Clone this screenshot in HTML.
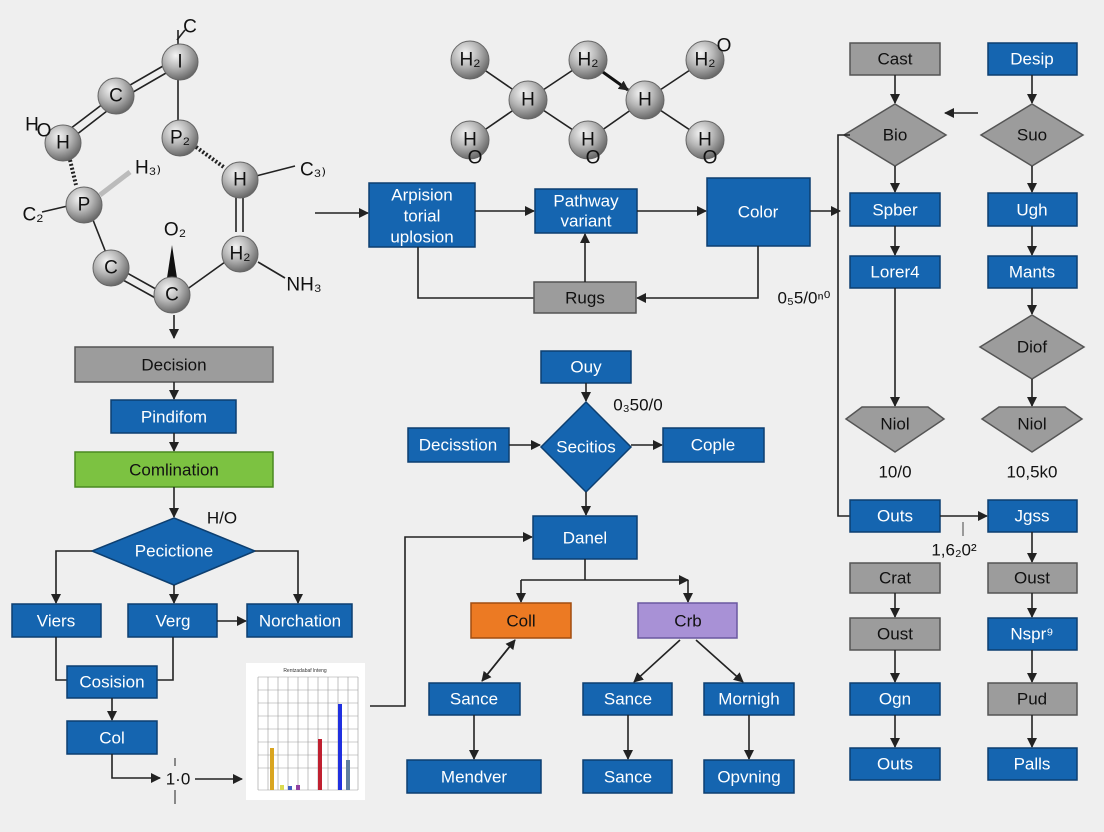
<!DOCTYPE html>
<html><head><meta charset="utf-8"><style>
html,body{margin:0;padding:0;background:#efefef}
svg{display:block}
text{font-family:"Liberation Sans",sans-serif}
.b{fill:#1565b0;stroke:#0d3f70;stroke-width:1.5}
.g{fill:#9c9c9c;stroke:#555;stroke-width:1.5}
.w{fill:#fff;font-size:17px;text-anchor:middle;dominant-baseline:central}
.k{fill:#111;font-size:17px;text-anchor:middle;dominant-baseline:central}
.l{stroke:#222;stroke-width:1.6;fill:none}
.a{stroke:#222;stroke-width:1.6;fill:none;marker-end:url(#ar)}
.at{fill:url(#sp);stroke:#666;stroke-width:1}
.al{fill:#111;font-size:19px;text-anchor:middle;dominant-baseline:central}
</style></head><body>
<svg width="1104" height="832" viewBox="0 0 1104 832" xmlns="http://www.w3.org/2000/svg">
<defs>
<marker id="ar" markerWidth="10" markerHeight="10" refX="9" refY="5" orient="auto" markerUnits="userSpaceOnUse"><path d="M0,0 L10,5 L0,10 z" fill="#222"/></marker>
<radialGradient id="sp" cx="0.38" cy="0.32" r="0.7"><stop offset="0" stop-color="#f4f4f4"/><stop offset="0.5" stop-color="#b5b5b5"/><stop offset="1" stop-color="#666"/></radialGradient>
</defs>
<rect width="1104" height="832" fill="#efefef"/>

<!-- Left molecule -->
<g class="l">
<line x1="178" y1="30" x2="178" y2="140"/>
<path d="M62,135 L112,97 M67,142 L116,104"/>
<path d="M118,92 L170,62 M121,99 L173,69"/>
<line x1="196" y1="147" x2="225" y2="168" stroke-dasharray="2,2" stroke-width="4"/>
<line x1="70" y1="160" x2="76" y2="185" stroke-dasharray="2,2" stroke-width="4"/>
<line x1="42" y1="212" x2="72" y2="205"/>
<line x1="93" y1="220" x2="108" y2="258"/>
<path d="M127,273 L163,293 M123,280 L159,300"/>
<line x1="186" y1="290" x2="225" y2="262"/>
<path d="M236,195 L236,232 M243,195 L243,232"/>
<line x1="256" y1="176" x2="295" y2="166"/>
<line x1="258" y1="262" x2="285" y2="278"/>
<line x1="174" y1="315" x2="174" y2="338" marker-end="url(#ar)"/>
<line x1="177" y1="40" x2="185" y2="30"/>
</g>
<line x1="100" y1="195" x2="130" y2="172" stroke="#bbb" stroke-width="5"/>
<path d="M172,245 L167,278 L177,278 z" fill="#111"/>
<circle class="at" cx="180" cy="62" r="18"/><text class="al" x="180" y="62">I</text>
<text class="al" x="190" y="27">C</text>
<circle class="at" cx="116" cy="96" r="18"/><text class="al" x="116" y="96">C</text>
<circle class="at" cx="63" cy="143" r="18"/><text class="al" x="63" y="143">H</text>
<text class="al" x="32" y="125">H</text><text class="al" x="44" y="131">O</text>
<circle class="at" cx="180" cy="138" r="18"/><text class="al" x="180" y="138">P₂</text>
<circle class="at" cx="84" cy="205" r="18"/><text class="al" x="84" y="205">P</text>
<text class="al" x="148" y="168">H₃₎</text>
<text class="al" x="33" y="215">C₂</text>
<circle class="at" cx="240" cy="180" r="18"/><text class="al" x="240" y="180">H</text>
<text class="al" x="313" y="170">C₃₎</text>
<circle class="at" cx="111" cy="268" r="18"/><text class="al" x="111" y="268">C</text>
<text class="al" x="175" y="230">O₂</text>
<circle class="at" cx="172" cy="295" r="18"/><text class="al" x="172" y="295">C</text>
<circle class="at" cx="240" cy="254" r="18"/><text class="al" x="240" y="254">H₂</text>
<text class="al" x="304" y="285">NH₃</text>

<!-- Middle molecule -->
<g class="l">
<line x1="470" y1="60" x2="528" y2="100"/><line x1="528" y1="100" x2="588" y2="60"/>
<line x1="528" y1="100" x2="470" y2="140"/><line x1="528" y1="100" x2="588" y2="140"/>
<line x1="588" y1="140" x2="645" y2="100"/><line x1="645" y1="100" x2="705" y2="60"/>
<line x1="645" y1="100" x2="705" y2="140"/>
</g>
<line x1="600" y1="70" x2="628" y2="90" stroke="#111" stroke-width="3" marker-end="url(#ar)"/>
<circle class="at" cx="470" cy="60" r="19"/><text class="al" x="470" y="60">H₂</text>
<circle class="at" cx="588" cy="60" r="19"/><text class="al" x="588" y="60">H₂</text>
<circle class="at" cx="705" cy="60" r="19"/><text class="al" x="705" y="60">H₂</text><text class="al" x="724" y="46">O</text>
<circle class="at" cx="528" cy="100" r="19"/><text class="al" x="528" y="100">H</text>
<circle class="at" cx="645" cy="100" r="19"/><text class="al" x="645" y="100">H</text>
<circle class="at" cx="470" cy="140" r="19"/><text class="al" x="470" y="140">H</text><text class="al" x="475" y="158">O</text>
<circle class="at" cx="588" cy="140" r="19"/><text class="al" x="588" y="140">H</text><text class="al" x="593" y="158">O</text>
<circle class="at" cx="705" cy="140" r="19"/><text class="al" x="705" y="140">H</text><text class="al" x="710" y="158">O</text>

<!-- Left flow -->
<rect class="g" x="75" y="347" width="198" height="35"/><text class="k" x="174" y="365">Decision</text>
<line class="a" x1="174" y1="382" x2="174" y2="399"/>
<rect class="b" x="111" y="400" width="125" height="33"/><text class="w" x="174" y="417">Pindifom</text>
<line class="a" x1="174" y1="433" x2="174" y2="451"/>
<rect x="75" y="452" width="198" height="35" fill="#7cc241" stroke="#4a8a20" stroke-width="1.5"/><text class="k" x="174" y="470">Comlination</text>
<line class="a" x1="174" y1="487" x2="174" y2="517"/>
<text class="k" x="222" y="518">H/O</text>
<path class="b" d="M174,518 L255,551 L174,585 L92,551 z"/><text class="w" x="174" y="551">Pecictione</text>
<path class="a" d="M92,551 L56,551 L56,603"/>
<line class="a" x1="174" y1="585" x2="174" y2="603"/>
<path class="a" d="M255,551 L298,551 L298,603"/>
<rect class="b" x="12" y="604" width="89" height="33"/><text class="w" x="56" y="621">Viers</text>
<rect class="b" x="128" y="604" width="89" height="33"/><text class="w" x="173" y="621">Verg</text>
<line class="a" x1="217" y1="621" x2="246" y2="621"/>
<rect class="b" x="247" y="604" width="105" height="33"/><text class="w" x="300" y="621">Norchation</text>
<path class="l" d="M56,637 L56,680 L67,680"/>
<path class="l" d="M173,637 L173,680 L157,680"/>
<rect class="b" x="67" y="666" width="90" height="32"/><text class="w" x="112" y="682">Cosision</text>
<line class="a" x1="112" y1="698" x2="112" y2="720"/>
<rect class="b" x="67" y="721" width="90" height="33"/><text class="w" x="112" y="738">Col</text>
<path class="a" d="M112,754 L112,778 L160,778"/>
<text class="k" x="178" y="779">1·0</text>
<line x1="175" y1="758" x2="175" y2="766" stroke="#222"/><line x1="175" y1="790" x2="175" y2="804" stroke="#222"/>
<line class="a" x1="195" y1="779" x2="242" y2="779"/>
<!-- chart -->
<rect x="246" y="663" width="119" height="137" fill="#fff"/>
<text x="305" y="672" font-size="5" text-anchor="middle" fill="#333">Rentzadabaf lnteng</text>
<g stroke="#999" stroke-width="0.6">
<line x1="258" y1="677" x2="358" y2="677"/><line x1="258" y1="690" x2="358" y2="690"/><line x1="258" y1="703" x2="358" y2="703"/><line x1="258" y1="716" x2="358" y2="716"/><line x1="258" y1="729" x2="358" y2="729"/><line x1="258" y1="742" x2="358" y2="742"/><line x1="258" y1="755" x2="358" y2="755"/><line x1="258" y1="768" x2="358" y2="768"/><line x1="258" y1="790" x2="358" y2="790"/>
<line x1="258" y1="677" x2="258" y2="790"/><line x1="268" y1="677" x2="268" y2="790"/><line x1="278" y1="677" x2="278" y2="790"/><line x1="288" y1="677" x2="288" y2="790"/><line x1="298" y1="677" x2="298" y2="790"/><line x1="308" y1="677" x2="308" y2="790"/><line x1="318" y1="677" x2="318" y2="790"/><line x1="328" y1="677" x2="328" y2="790"/><line x1="338" y1="677" x2="338" y2="790"/><line x1="348" y1="677" x2="348" y2="790"/><line x1="358" y1="677" x2="358" y2="790"/>
</g>
<rect x="270" y="748" width="4" height="42" fill="#d9a520"/>
<rect x="280" y="785" width="4" height="5" fill="#dada50"/>
<rect x="288" y="786" width="4" height="4" fill="#4060c0"/>
<rect x="296" y="785" width="4" height="5" fill="#9040a0"/>
<rect x="318" y="739" width="4" height="51" fill="#c02030"/>
<rect x="338" y="704" width="4" height="86" fill="#2030e0"/>
<rect x="346" y="760" width="4" height="30" fill="#6080a0"/>
<path class="a" d="M370,706 L405,706 L405,537 L532,537"/>

<!-- Middle flow -->
<line class="a" x1="315" y1="213" x2="368" y2="213"/>
<rect class="b" x="369" y="183" width="106" height="64"/>
<text class="w" x="422" y="195">Arpision</text><text class="w" x="422" y="216">torial</text><text class="w" x="422" y="237">uplosion</text>
<line class="a" x1="475" y1="211" x2="534" y2="211"/>
<rect class="b" x="535" y="189" width="102" height="44"/>
<text class="w" x="586" y="201">Pathway</text><text class="w" x="586" y="221">variant</text>
<line class="a" x1="637" y1="211" x2="706" y2="211"/>
<rect class="b" x="707" y="178" width="103" height="68"/><text class="w" x="758" y="212">Color</text>
<line class="a" x1="810" y1="211" x2="840" y2="211"/>
<path class="l" d="M418,247 L418,298 L534,298"/>
<path class="a" d="M758,246 L758,298 L637,298"/>
<rect class="g" x="534" y="282" width="102" height="31"/><text class="k" x="585" y="298">Rugs</text>
<line class="a" x1="585" y1="282" x2="585" y2="234"/>
<text class="k" x="804" y="298" font-size="16">0₅5/0ⁿ⁰</text>
<rect class="b" x="541" y="351" width="90" height="32"/><text class="w" x="586" y="367">Ouy</text>
<line class="a" x1="586" y1="383" x2="586" y2="401"/>
<text class="k" x="638" y="405" font-size="16">0₃50/0</text>
<path class="b" d="M586,402 L631,447 L586,492 L541,447 z"/><text class="w" x="586" y="447">Secitios</text>
<rect class="b" x="408" y="428" width="101" height="34"/><text class="w" x="458" y="445">Decisstion</text>
<line class="a" x1="509" y1="445" x2="540" y2="445"/>
<line class="a" x1="631" y1="445" x2="662" y2="445"/>
<rect class="b" x="663" y="428" width="101" height="34"/><text class="w" x="713" y="445">Cople</text>
<line class="a" x1="586" y1="492" x2="586" y2="515"/>
<rect class="b" x="533" y="516" width="104" height="43"/><text class="w" x="585" y="538">Danel</text>
<line class="l" x1="585" y1="559" x2="585" y2="580"/>
<path class="a" d="M521,580 L688,580"/>
<path class="a" d="M521,580 L521,602"/>
<path class="a" d="M688,580 L688,602"/>
<rect x="471" y="603" width="100" height="35" fill="#ec7a23" stroke="#a24d10" stroke-width="1.5"/><text class="k" x="521" y="621">Coll</text>
<rect x="638" y="603" width="99" height="35" fill="#a891d6" stroke="#6a58a0" stroke-width="1.5"/><text class="k" x="688" y="621">Crb</text>
<line class="a" x1="515" y1="640" x2="482" y2="681"/><line class="a" x1="482" y1="681" x2="515" y2="640"/>
<line class="a" x1="680" y1="640" x2="634" y2="682"/>
<line class="a" x1="696" y1="640" x2="743" y2="682"/>
<rect class="b" x="429" y="683" width="91" height="32"/><text class="w" x="474" y="699">Sance</text>
<rect class="b" x="583" y="683" width="89" height="32"/><text class="w" x="628" y="699">Sance</text>
<rect class="b" x="704" y="683" width="90" height="32"/><text class="w" x="749" y="699">Mornigh</text>
<line class="a" x1="474" y1="715" x2="474" y2="759"/>
<line class="a" x1="628" y1="715" x2="628" y2="759"/>
<line class="a" x1="749" y1="715" x2="749" y2="759"/>
<rect class="b" x="407" y="760" width="134" height="33"/><text class="w" x="474" y="777">Mendver</text>
<rect class="b" x="583" y="760" width="89" height="33"/><text class="w" x="628" y="777">Sance</text>
<rect class="b" x="704" y="760" width="90" height="33"/><text class="w" x="749" y="777">Opvning</text>

<!-- Right -->
<rect class="g" x="850" y="43" width="90" height="32"/><text class="k" x="895" y="59">Cast</text>
<rect class="b" x="988" y="43" width="89" height="32"/><text class="w" x="1032" y="59">Desip</text>
<line class="a" x1="895" y1="75" x2="895" y2="103"/>
<line class="a" x1="1032" y1="75" x2="1032" y2="103"/>
<path class="g" d="M895,104 L946,135 L895,166 L844,135 z"/><text class="k" x="895" y="135">Bio</text>
<path class="g" d="M1032,104 L1083,135 L1032,166 L981,135 z"/><text class="k" x="1032" y="135">Suo</text>
<line class="a" x1="978" y1="113" x2="945" y2="113"/>
<line class="a" x1="895" y1="166" x2="895" y2="192"/>
<line class="a" x1="1032" y1="166" x2="1032" y2="192"/>
<rect class="b" x="850" y="193" width="90" height="33"/><text class="w" x="895" y="210">Spber</text>
<rect class="b" x="988" y="193" width="89" height="33"/><text class="w" x="1032" y="210">Ugh</text>
<line class="a" x1="895" y1="226" x2="895" y2="255"/>
<line class="a" x1="1032" y1="226" x2="1032" y2="255"/>
<rect class="b" x="850" y="256" width="90" height="32"/><text class="w" x="895" y="272">Lorer4</text>
<rect class="b" x="988" y="256" width="89" height="32"/><text class="w" x="1032" y="272">Mants</text>
<line class="a" x1="1032" y1="288" x2="1032" y2="314"/>
<path class="g" d="M1032,315 L1084,347 L1032,379 L980,347 z"/><text class="k" x="1032" y="347">Diof</text>
<line class="a" x1="895" y1="288" x2="895" y2="406"/>
<line class="a" x1="1032" y1="379" x2="1032" y2="406"/>
<path class="g" d="M862,407 L928,407 L944,419 L895,452 L846,419 z"/><text class="k" x="895" y="424">Niol</text>
<path class="g" d="M999,407 L1065,407 L1082,419 L1032,452 L982,419 z"/><text class="k" x="1032" y="424">Niol</text>
<text class="k" x="895" y="472">10/0</text>
<text class="k" x="1032" y="472">10,5k0</text>
<path class="l" d="M850,135 L838,135 L838,516 L850,516"/>
<rect class="b" x="850" y="500" width="90" height="32"/><text class="w" x="895" y="516">Outs</text>
<line class="a" x1="940" y1="516" x2="987" y2="516"/>
<line x1="963" y1="522" x2="963" y2="536" stroke="#444"/>
<text class="k" x="954" y="550" font-size="16">1,6₂0²</text>
<rect class="b" x="988" y="500" width="89" height="32"/><text class="w" x="1032" y="516">Jgss</text>
<line class="a" x1="1032" y1="532" x2="1032" y2="562"/>
<rect class="g" x="850" y="563" width="90" height="30"/><text class="k" x="895" y="578">Crat</text>
<rect class="g" x="988" y="563" width="89" height="30"/><text class="k" x="1032" y="578">Oust</text>
<line class="a" x1="895" y1="593" x2="895" y2="617"/>
<line class="a" x1="1032" y1="593" x2="1032" y2="617"/>
<rect class="g" x="850" y="618" width="90" height="32"/><text class="k" x="895" y="634">Oust</text>
<rect class="b" x="988" y="618" width="89" height="32"/><text class="w" x="1032" y="634">Nspr⁹</text>
<line class="a" x1="895" y1="650" x2="895" y2="682"/>
<line class="a" x1="1032" y1="650" x2="1032" y2="682"/>
<rect class="b" x="850" y="683" width="90" height="32"/><text class="w" x="895" y="699">Ogn</text>
<rect class="g" x="988" y="683" width="89" height="32"/><text class="k" x="1032" y="699">Pud</text>
<line class="a" x1="895" y1="715" x2="895" y2="747"/>
<line class="a" x1="1032" y1="715" x2="1032" y2="747"/>
<rect class="b" x="850" y="748" width="90" height="32"/><text class="w" x="895" y="764">Outs</text>
<rect class="b" x="988" y="748" width="89" height="32"/><text class="w" x="1032" y="764">Palls</text>
</svg>
</body></html>
